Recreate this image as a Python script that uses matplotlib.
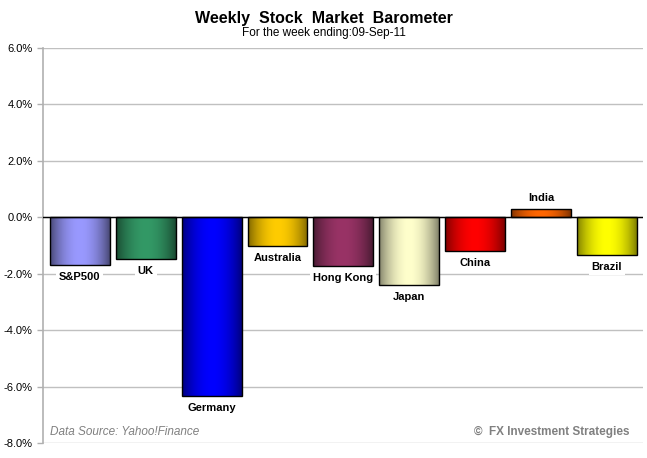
import matplotlib
matplotlib.use("Agg")
import matplotlib.pyplot as plt
import numpy as np
from matplotlib.colors import to_rgb
from matplotlib.ticker import FuncFormatter

plt.rcParams['font.family'] = ['Liberation Sans', 'DejaVu Sans']

markets = ["S&P500", "UK", "Germany", "Australia", "Hong Kong", "Japan", "China", "India", "Brazil"]
changes = [-1.70, -1.49, -6.35, -1.03, -1.74, -2.41, -1.21, 0.28, -1.35]
center_colors = ["#9999FF", "#339966", "#0000FF", "#FFCC00", "#993366", "#FFFFCC", "#FF0000", "#FF6600", "#FFFF00"]
edge_colors = ["#45456e", "#18472f", "#000078", "#7a6200", "#451a30", "#7d7d66", "#780000", "#7a3000", "#7a7a00"]
yticks = [6, 4, 2, 0, -2, -4, -6, -8]

fig = plt.figure(figsize=(6.47, 4.58), dpi=100)
ax = fig.add_axes([43/647, 1-443/458, 600/647, 395/458])

xlo, xhi = -0.56, len(markets) - 0.45
width = 0.91

t = np.linspace(0, 1, 200)
prof = np.sin(np.pi * t) ** 0.8

for i, (m, v, cc, ec) in enumerate(zip(markets, changes, center_colors, edge_colors)):
    bars = ax.bar(i, v, width=width, facecolor='none', edgecolor='black', linewidth=1.0, zorder=4)
    b = bars[0]
    c1 = np.array(to_rgb(cc)); c0 = np.array(to_rgb(ec))
    grad = c0[None, :] + (c1 - c0)[None, :] * prof[:, None]
    img = np.repeat(grad[None, :, :], 2, axis=0)
    x0 = i - width / 2
    im = ax.imshow(img, extent=[x0, x0 + width, min(0, v), max(0, v)], aspect='auto', zorder=3,
                   interpolation='bilinear')
    im.set_clip_path(b)
    off = -0.42 if v < 0 else 0.42
    ax.text(i, v + off, m, ha='center', va='center', fontsize=8, fontweight='bold', zorder=5,
            bbox=dict(facecolor='white', edgecolor='none', pad=2))

ax.set_xlim(xlo, xhi)
ax.set_ylim(-8, 6)
ax.set_yticks(yticks)
ax.yaxis.set_major_formatter(FuncFormatter(lambda v, p: f"{v:.1f}%"))
ax.tick_params(axis='y', labelsize=8, length=4, color='#b0b0b0', width=1)
ax.set_xticks([])
for y in yticks:
    ax.axhline(y, color='#c0c0c0', linewidth=1, zorder=1)
ax.axhline(0, color='black', linewidth=1, zorder=4.5)
for s in ['top', 'right', 'bottom']:
    ax.spines[s].set_visible(False)
ax.spines['left'].set_color('#b0b0b0')
ax.spines['left'].set_linewidth(1.2)

fig.text(0.5, 1 - 18/458, "Weekly  Stock  Market  Barometer", ha='center', va='center', fontsize=11.5, fontweight='bold')
fig.text(0.5, 1 - 33/458, "For the week ending:09-Sep-11", ha='center', va='center', fontsize=8.5)
fig.text(50/647, 1 - 432/458, "Data Source: Yahoo!Finance", ha='left', va='center', fontsize=8.5, style='italic', color='#808080')
fig.text(630/647, 1 - 432/458, "©  FX Investment Strategies", ha='right', va='center', fontsize=8.5, fontweight='bold', color='#808080')

fig.savefig("out.png", dpi=100)
